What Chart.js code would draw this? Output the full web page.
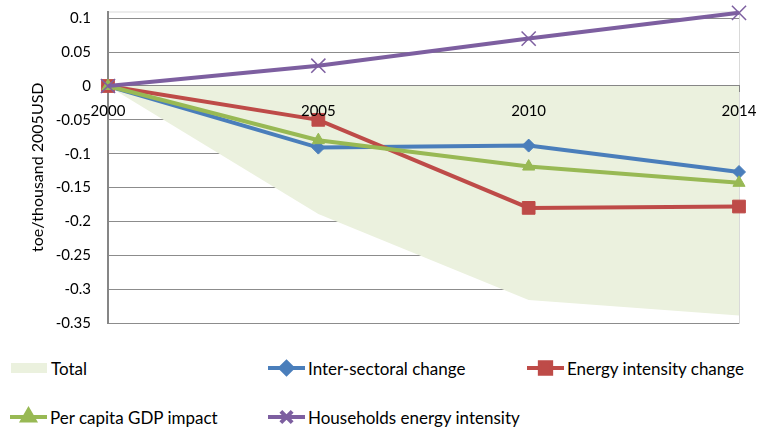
<!DOCTYPE html>
<html>
<head>
<meta charset="utf-8">
<script src="https://cdn.jsdelivr.net/npm/chart.js@4"></script>
<style>
  body { margin: 0; background: #fff; font-family: Lato, sans-serif; }
  #wrap { position: relative; width: 770px; height: 429px; }
  #chart { position: absolute; left: 0; top: 0; }
  .leg { position: absolute; display: flex; align-items: center; font-size: 17px; color: #000; white-space: nowrap; }
  .leg canvas { margin-right: 2px; }
</style>
</head>
<body>
<div id="wrap">
  <canvas id="chart" width="770" height="340"></canvas>
  <div id="legend"></div>
</div>
<script>
var years = ['2000', '2005', '2010', '2014'];
var total = [0, -0.189, -0.316, -0.339];
var interSectoral = [0, -0.091, -0.088, -0.127];
var energyIntensity = [0, -0.050, -0.180, -0.178];
var gdpImpact = [0, -0.080, -0.119, -0.143];
var households = [0, 0.030, 0.070, 0.108];
var yTicks = [-0.35, -0.3, -0.25, -0.2, -0.15, -0.1, -0.05, 0, 0.05, 0.1];

var blue = '#4a7ebb', red = '#be4b48', green = '#98b954', purple = '#7d5fa0', fillGreen = '#ebf1de';
var font = 'Lato, sans-serif';

// light frame round the plot area, like the Excel one
var frame = {
    id: 'frame',
    beforeDraw: function (chart) {
        var a = chart.chartArea, c = chart.ctx;
        c.save();
        c.strokeStyle = '#d9d9d9';
        c.lineWidth = 1;
        c.strokeRect(a.left + 0.5, a.top + 0.5, a.right - a.left, a.bottom - a.top);
        c.restore();
    }
};

var ctx = document.getElementById('chart').getContext('2d');
var chart = new Chart(ctx, {
    type: 'line',
    data: {
        labels: years,
        datasets: [{
            label: 'Total',
            data: total,
            fill: 'origin',
            backgroundColor: fillGreen,
            borderWidth: 0,
            pointRadius: 0,
            order: 5
        }, {
            label: 'Inter-sectoral change',
            data: interSectoral,
            borderColor: blue, backgroundColor: blue,
            borderWidth: 4, pointStyle: 'rectRot', pointRadius: 6.5, pointBorderWidth: 1,
            clip: false, order: 4
        }, {
            label: 'Energy intensity change',
            data: energyIntensity,
            borderColor: red, backgroundColor: red,
            borderWidth: 4, pointStyle: 'rect', pointRadius: 9, pointBorderWidth: 1,
            clip: false, order: 3
        }, {
            label: 'Per capita GDP impact',
            data: gdpImpact,
            borderColor: green, backgroundColor: green,
            borderWidth: 4, pointStyle: 'triangle', pointRadius: 7, pointBorderWidth: 1,
            clip: false, order: 2
        }, {
            label: 'Households energy intensity',
            data: households,
            borderColor: purple, backgroundColor: purple,
            borderWidth: 4, pointStyle: 'crossRot', pointRadius: 10, pointBorderWidth: 1.5,
            clip: false, order: 1
        }]
    },
    options: {
        responsive: false,
        animation: false,
        layout: { padding: { top: 9, right: 31, bottom: 17, left: 0 } },
        plugins: { legend: { display: false }, tooltip: { enabled: false } },
        elements: { line: { tension: 0 } },
        scales: {
            x: {
                type: 'category',
                position: { y: 0 },
                offset: false,
                afterFit: function (axis) {
                    axis.paddingTop = 0;
                    axis.paddingBottom = 0;
                },
                grid: { drawOnChartArea: false, drawTicks: true, tickLength: 5, color: '#868686' },
                border: { color: '#868686', width: 2 },
                ticks: { z: 1, color: '#000', font: { family: font, size: 15 }, padding: 11, autoSkip: false, maxRotation: 0 }
            },
            y: {
                min: -0.35,
                max: 0.11,
                afterBuildTicks: function (axis) {
                    axis.ticks = yTicks.map(function (v) { return { value: v }; });
                },
                afterFit: function (axis) {
                    axis.width = 108;
                    axis.paddingTop = 0;
                    axis.paddingBottom = 0;
                },
                grid: {
                    color: function (c) { return c.tick && c.tick.value === 0 ? '#868686' : '#8c8c8c'; },
                    lineWidth: function (c) { return c.tick && c.tick.value === 0 ? 2 : 1; },
                    drawTicks: false
                },
                border: { color: '#868686', width: 2 },
                ticks: {
                    color: '#000', font: { family: font, size: 15 }, padding: 17,
                    callback: function (v) { return String(Math.round(v * 100) / 100); }
                },
                title: { display: true, text: 'toe/thousand 2005USD', color: '#000', font: { family: font, size: 16 }, padding: { top: 28, bottom: 0 } }
            }
        }
    },
    plugins: [frame]
});

// legend laid out in the same grid as the reference
var legendPos = [
    { x: 11, y: 368 }, { x: 268, y: 368 }, { x: 527, y: 368 },
    { x: 10, y: 417 }, { x: 268, y: 417 }
];
var legendRadius = { rectRot: 6, rect: 8, triangle: 7, crossRot: 8 };
var legendBox = document.getElementById('legend');
chart.data.datasets.forEach(function (ds, i) {
    var item = document.createElement('div');
    item.className = 'leg';
    item.style.left = legendPos[i].x + 'px';
    item.style.top = (legendPos[i].y - 11) + 'px';
    item.style.height = '22px';
    var sw = document.createElement('canvas');
    sw.width = 38; sw.height = 22;
    var s = sw.getContext('2d');
    if (i === 0) {
        s.fillStyle = ds.backgroundColor;
        s.fillRect(0, 6, 36, 10);
    } else {
        s.strokeStyle = ds.borderColor;
        s.lineWidth = 4;
        s.beginPath(); s.moveTo(0, 11); s.lineTo(37, 11); s.stroke();
        s.fillStyle = ds.backgroundColor;
        Chart.helpers.drawPoint(s, {
            pointStyle: ds.pointStyle, radius: legendRadius[ds.pointStyle],
            borderWidth: ds.pointStyle === 'crossRot' ? 1.5 : 1
        }, 18.5, 11);
    }
    item.appendChild(sw);
    var t = document.createElement('span');
    t.textContent = ds.label;
    item.appendChild(t);
    legendBox.appendChild(item);
});
</script>
</body>
</html>
